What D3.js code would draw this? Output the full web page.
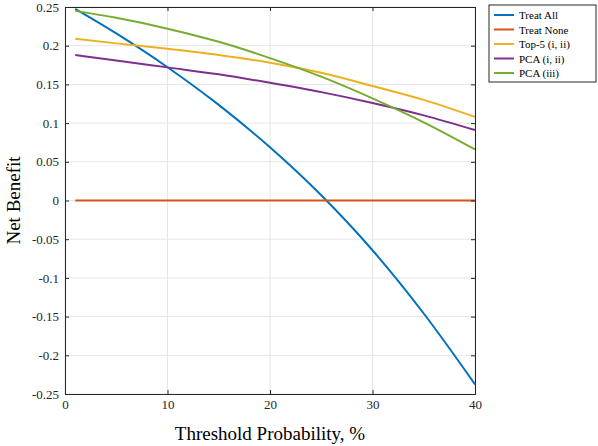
<!DOCTYPE html><html><head><meta charset="utf-8"><script src="https://cdn.jsdelivr.net/npm/d3@7"></script>
<style>body{margin:0;background:#fff}text{font-family:"Liberation Serif","DejaVu Serif",serif}</style></head><body>
<svg id="c" width="598" height="446"></svg>
<script>
const xs=[1,5,10,15,20,25,30,35,40];
const treatAll=[0.2475,0.2158,0.1722,0.1235,0.0687,0.0067,-0.0643,-0.146,-0.2375];
const treatNone=[0,0,0,0,0,0,0,0,0];
const top5=[0.209,0.203,0.196,0.188,0.178,0.165,0.148,0.130,0.108];
const pcaI=[0.188,0.181,0.172,0.163,0.152,0.140,0.126,0.110,0.091];
const pcaIII=[0.245,0.236,0.222,0.205,0.184,0.160,0.132,0.101,0.066];
const names=["Treat All","Treat None","Top-5 (i, ii)","PCA (i, ii)","PCA (iii)"];
const colors=["#0072BD","#D95319","#EDB120","#7E2F8E","#77AC30"];
const series=[treatAll,treatNone,top5,pcaI,pcaIII];
const xTicks=[0,10,20,30,40];
const yTicks=[-0.25,-0.2,-0.15,-0.1,-0.05,0,0.05,0.1,0.15,0.2,0.25];
const svg=d3.select("#c");
const L=65,R=475,T=7,B=394;
const x=d3.scaleLinear().domain([0,40]).range([L,R]);
const y=d3.scaleLinear().domain([-0.25,0.25]).range([B,T]);
const g=svg.append("g");
xTicks.forEach(t=>g.append("line").attr("x1",x(t)).attr("x2",x(t)).attr("y1",T).attr("y2",B).attr("stroke","#e6e6e6"));
yTicks.forEach(t=>g.append("line").attr("x1",L).attr("x2",R).attr("y1",y(t)).attr("y2",y(t)).attr("stroke","#e6e6e6"));
const ln=d3.line().x((d,i)=>x(xs[i])).y(d=>y(d)).curve(d3.curveMonotoneX);
series.forEach((s,i)=>g.append("path").attr("d",ln(s)).attr("fill","none").attr("stroke",colors[i]).attr("stroke-width",2));
svg.append("g").attr("transform",`translate(0,${B})`).call(d3.axisBottom(x).tickValues(xTicks).tickSize(-4).tickPadding(6).tickFormat(d3.format("d"))).call(a=>a.selectAll("text").attr("font-size",13).attr("fill","#262626"));
svg.append("g").attr("transform",`translate(${L},0)`).call(d3.axisLeft(y).tickValues(yTicks).tickSize(-4).tickPadding(6).tickFormat(d=>d===0?"0":String(+d.toFixed(2)))).call(a=>a.selectAll("text").attr("font-size",13).attr("fill","#262626"));
svg.append("g").attr("transform",`translate(0,${T})`).call(d3.axisTop(x).tickValues(xTicks).tickSize(-4).tickFormat(""));
svg.append("g").attr("transform",`translate(${R},0)`).call(d3.axisRight(y).tickValues(yTicks).tickSize(-4).tickFormat(""));
svg.selectAll(".domain").attr("stroke","#262626");svg.selectAll(".tick line").attr("stroke","#262626");
svg.append("text").attr("x",(L+R)/2).attr("y",440).attr("text-anchor","middle").attr("font-size",19).text("Threshold Probability, %");
svg.append("text").attr("transform",`translate(20,${(T+B)/2}) rotate(-90)`).attr("text-anchor","middle").attr("font-size",19).text("Net Benefit");
const lg=svg.append("g").attr("transform","translate(489,5)");
lg.append("rect").attr("width",107).attr("height",77).attr("fill","#fff").attr("stroke","#262626");
names.forEach((n,i)=>{const yy=10+i*14.5;
lg.append("line").attr("x1",5).attr("x2",25).attr("y1",yy).attr("y2",yy).attr("stroke",colors[i]).attr("stroke-width",2);
lg.append("text").attr("x",30).attr("y",yy+4).attr("font-size",11).text(n);});
</script></body></html>
